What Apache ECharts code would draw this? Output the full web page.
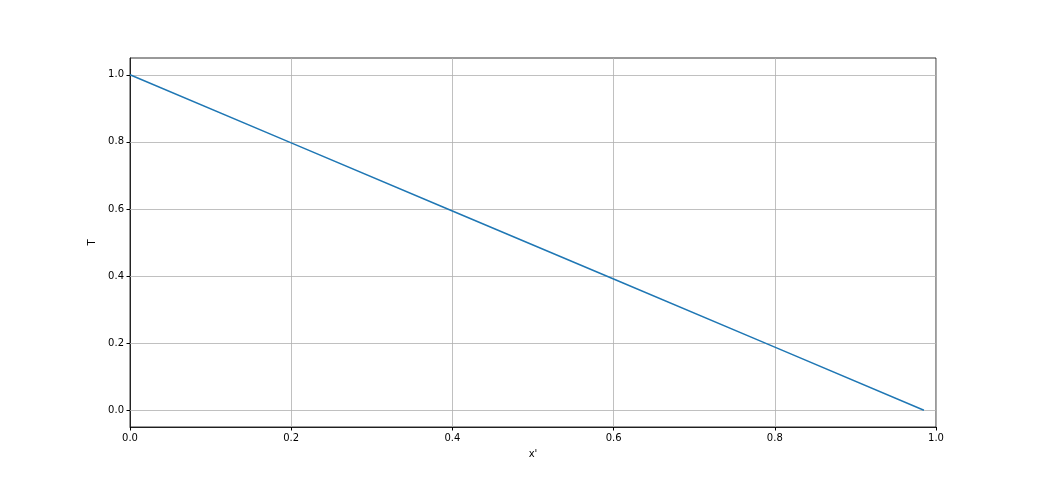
<!DOCTYPE html>
<html>
<head>
<meta charset="utf-8">
<script src="https://cdn.jsdelivr.net/npm/echarts@6/dist/echarts.min.js"></script>
<style>html,body{margin:0;padding:0;background:#fff}#c{width:1040px;height:480px}</style>
</head>
<body>
<div id="c"></div>
<script>
const xValues = [0.0, 0.2, 0.4, 0.6, 0.8, 0.985];
const tValues = [1.0, 0.797, 0.594, 0.391, 0.188, 0.0];
const xTicks = [0.0, 0.2, 0.4, 0.6, 0.8, 1.0];
const yTicks = [0.0, 0.2, 0.4, 0.6, 0.8, 1.0];

const chart = echarts.init(document.getElementById('c'), null, {renderer: 'canvas'});
const font = 'DejaVu Sans';
chart.setOption({
  animation: false,
  backgroundColor: '#ffffff',
  grid: {left: 130, top: 58, width: 806, height: 369, show: true, borderColor: '#000', borderWidth: 0.8, backgroundColor: 'transparent'},
  xAxis: {
    type: 'value', min: 0, max: 1.0, interval: 0.2,
    name: "x'", nameLocation: 'middle', nameGap: 22,
    nameTextStyle: {fontFamily: font, fontSize: 10, color: '#000'},
    axisLine: {show: true, onZero: false, lineStyle: {color: '#000', width: 0.8}},
    axisTick: {show: true, length: 3.5, lineStyle: {color: '#000'}},
    axisLabel: {fontFamily: font, fontSize: 10, color: '#000', margin: 6, formatter: v => v.toFixed(1)},
    splitLine: {show: true, lineStyle: {color: '#b0b0b0', width: 0.8}}
  },
  yAxis: {
    type: 'value', min: -0.05, max: 1.05,
    name: 'T', nameLocation: 'middle', nameGap: 32, nameRotate: 90,
    nameTextStyle: {fontFamily: font, fontSize: 10, color: '#000'},
    axisLine: {show: true, onZero: false, lineStyle: {color: '#000', width: 0.8}},
    axisTick: {show: true, length: 3.5, lineStyle: {color: '#000'}, customValues: yTicks},
    axisLabel: {fontFamily: font, fontSize: 10, color: '#000', margin: 6, customValues: yTicks, formatter: v => v.toFixed(1)},
    splitLine: {show: false}
  },
  series: [
    {
      type: 'line', data: xValues.map((x, i) => [x, tValues[i]]),
      showSymbol: false, symbol: 'none',
      lineStyle: {color: '#1f77b4', width: 1.5},
      markLine: {
        silent: true, symbol: 'none', label: {show: false},
        lineStyle: {color: '#b0b0b0', width: 0.8, type: 'solid'},
        data: yTicks.map(v => ({yAxis: v})),
        z: 1
      },
      z: 3
    }
  ]
});
</script>
</body>
</html>
